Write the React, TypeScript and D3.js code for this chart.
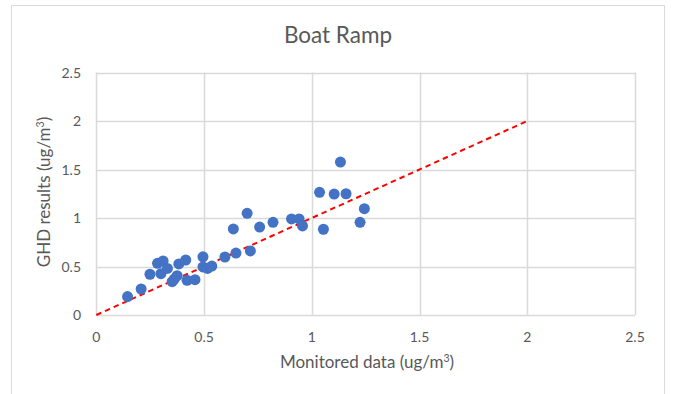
import React from "react";
import * as d3 from "d3";

const monitored = [0.145, 0.208, 0.249, 0.284, 0.31, 0.30, 0.33, 0.352, 0.362, 0.375, 0.383, 0.415, 0.421, 0.458, 0.495, 0.495, 0.516, 0.536, 0.597, 0.648, 0.636, 0.715, 0.70, 0.758, 0.82, 0.906, 0.941, 0.957, 1.036, 1.054, 1.104, 1.133, 1.159, 1.224, 1.244];
const ghd = [0.19, 0.268, 0.42, 0.533, 0.557, 0.426, 0.48, 0.343, 0.37, 0.405, 0.526, 0.567, 0.357, 0.364, 0.60, 0.495, 0.48, 0.505, 0.598, 0.639, 0.887, 0.66, 1.048, 0.907, 0.955, 0.99, 0.99, 0.918, 1.265, 0.884, 1.247, 1.577, 1.25, 0.956, 1.096];
const lineX = [0, 2];
const lineY = [0, 2];
const xTicks = [0, 0.5, 1, 1.5, 2, 2.5];
const yTicks = [0, 0.5, 1, 1.5, 2, 2.5];
const titleText = "Boat Ramp";

const W = 674, H = 394;
const font = "Lato, 'Open Sans', sans-serif";
const textColor = "#595959";

export default function App() {
  const x = d3.scaleLinear().domain([0, 2.5]).range([96.3, 635]);
  const y = d3.scaleLinear().domain([0, 2.5]).range([315, 72.5]);
  const line = d3.line<number>().x((d) => x(lineX[d])).y((d) => y(lineY[d]));
  return (
    <svg width={W} height={H} style={{ position: "absolute", left: 0, top: 0, background: "#fff" }}>
      <rect x={0} y={0} width={W} height={H} fill="#fff" />
      <path d={`M11.5,${H + 2}V5.5H664.5V${H + 2}`} fill="none" stroke="#d9d9d9" strokeWidth={1} />
      <text x={338} y={42.5} textAnchor="middle" fontFamily={font} fontSize={22.5} fill={textColor}>{titleText}</text>
      {xTicks.map((t) => (
        <line key={"gx" + t} x1={Math.round(x(t)) + 0.5} x2={Math.round(x(t)) + 0.5} y1={y(2.5)} y2={y(0)} stroke="#d9d9d9" strokeWidth={1.5} />
      ))}
      {yTicks.map((t) => (
        <line key={"gy" + t} x1={x(0)} x2={x(2.5)} y1={Math.round(y(t)) + 0.5} y2={Math.round(y(t)) + 0.5} stroke="#d9d9d9" strokeWidth={1.5} />
      ))}
      {xTicks.map((t) => (
        <text key={"tx" + t} x={x(t)} y={342} textAnchor="middle" fontFamily={font} fontSize={14} fill={textColor}>{String(t)}</text>
      ))}
      {yTicks.map((t) => (
        <text key={"ty" + t} x={81} y={y(t) + 5} textAnchor="end" fontFamily={font} fontSize={14} fill={textColor}>{String(t)}</text>
      ))}
      <text x={367} y={368} textAnchor="middle" fontFamily={font} fontSize={17} fill={textColor}>
        Monitored data (ug/m<tspan dy={-6} fontSize={10.5}>3</tspan><tspan dy={6}>)</tspan>
      </text>
      <text transform={`translate(50,192) rotate(-90)`} textAnchor="middle" fontFamily={font} fontSize={17} fill={textColor}>
        GHD results (ug/m<tspan dy={-6} fontSize={10.5}>3</tspan><tspan dy={6}>)</tspan>
      </text>
      <path d={line([0, 1]) || ""} fill="none" stroke="#ff0000" strokeWidth={2} strokeDasharray="5.5,4" />
      {monitored.map((m, i) => (
        <circle key={"p" + i} cx={x(m)} cy={y(ghd[i])} r={5.5} fill="#4472c4" />
      ))}
    </svg>
  );
}
